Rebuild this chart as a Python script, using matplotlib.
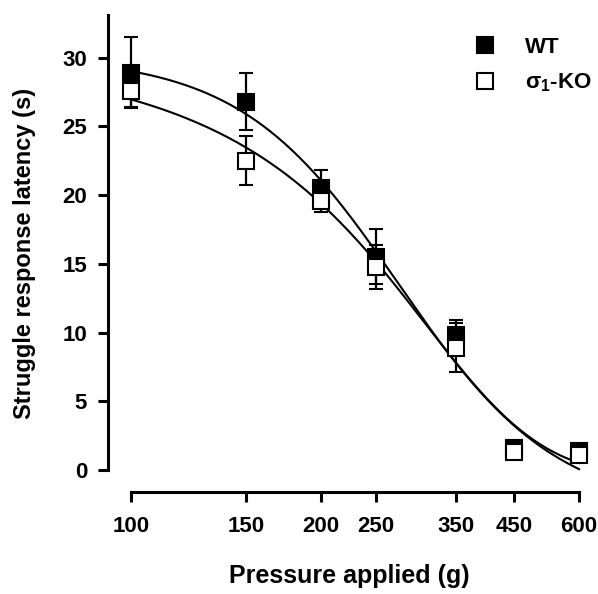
import numpy as np
import matplotlib
matplotlib.use("Agg")
import matplotlib.pyplot as plt

plt.rcParams["font.family"] = ["Liberation Sans", "DejaVu Sans"]
plt.rcParams["font.weight"] = "bold"
plt.rcParams["mathtext.default"] = "regular"

pressure = [100, 150, 200, 250, 350, 450, 600]
tick_labels = ["100", "150", "200", "250", "350", "450", "600"]

wt_mean = [28.9, 26.8, 20.5, 15.5, 9.8, 1.6, 1.4]
wt_sem = [2.6, 2.1, 1.3, 2.0, 1.1, 0.0, 0.0]
ko_mean = [27.6, 22.5, 19.6, 14.8, 8.9, 1.3, 1.1]
ko_sem = [1.2, 1.8, 0.8, 1.6, 1.8, 0.0, 0.0]

# fitted curves: (bottom, top, slope, midpoint)
wt_fit = (-3.0, 30.1, 2.7, 5.50)    # sigmoid on log(x - 30)
ko_fit = (-0.5, 35.9, 107.0, 220.0)  # sigmoid on x

SHIFT = 30.0


def fwd(x):
    return np.log(np.clip(np.asarray(x, dtype=float) - SHIFT, 1e-6, None))


def inv(u):
    return np.exp(u) + SHIFT


def wt_curve(x, params):
    bottom, top, k, u0 = params
    return bottom + (top - bottom) / (1 + np.exp(k * (fwd(x) - u0)))


def ko_curve(x, params):
    bottom, top, s, x0 = params
    return bottom + (top - bottom) / (1 + np.exp((x - x0) / s))


fig = plt.figure(figsize=(5.98, 5.94), dpi=100)
ax = fig.add_axes([108 / 598, 1 - 492 / 594, (590 - 108) / 598, (492 - 15) / 594])
ax.set_xscale("function", functions=(fwd, inv))
ax.set_xlim(92.8, 630)
ax.set_ylim(-1.6, 33.1)

xs = np.linspace(100, 600, 300)
ax.plot(xs, wt_curve(xs, wt_fit), color="black", lw=1.5, zorder=2)
ax.plot(xs, ko_curve(xs, ko_fit), color="black", lw=1.5, zorder=2)

ax.errorbar(pressure, wt_mean, yerr=wt_sem, fmt="s", color="black", mfc="black",
            mec="black", ms=11, mew=1.5, elinewidth=1.6, capsize=5, capthick=1.6,
            zorder=3, label="WT")
ax.errorbar(pressure, ko_mean, yerr=ko_sem, fmt="s", color="black", mfc="white",
            mec="black", ms=11, mew=1.5, elinewidth=1.6, capsize=5, capthick=1.6,
            zorder=4, label="σ$_1$-KO")

for side in ["top", "right"]:
    ax.spines[side].set_visible(False)
ax.spines["left"].set_bounds(0, 33.1)
ax.spines["bottom"].set_bounds(100, 600)
ax.spines["left"].set_linewidth(2.2)
ax.spines["bottom"].set_linewidth(2.2)

ax.set_xticks(pressure)
ax.set_xticklabels(tick_labels)
ax.xaxis.set_minor_locator(matplotlib.ticker.NullLocator())
ax.set_yticks([0, 5, 10, 15, 20, 25, 30])
ax.tick_params(axis="both", width=2.2, length=7, labelsize=16, direction="out")
ax.tick_params(axis="y", pad=8)
ax.tick_params(axis="x", pad=10)

ax.set_xlabel("Pressure applied (g)", fontsize=18, fontweight="bold", labelpad=20)
ax.set_ylabel("Struggle response latency (s)", fontsize=17, fontweight="bold", labelpad=19)

handles, labels = ax.get_legend_handles_labels()
handles = [h[0] for h in handles]
ax.legend(handles, labels, loc="upper right", bbox_to_anchor=(1.03, 0.982), frameon=False,
          fontsize=16, handlelength=1.0, handletextpad=1.3, labelspacing=0.62,
          borderaxespad=0.2)

fig.savefig("out.png", dpi=100)
